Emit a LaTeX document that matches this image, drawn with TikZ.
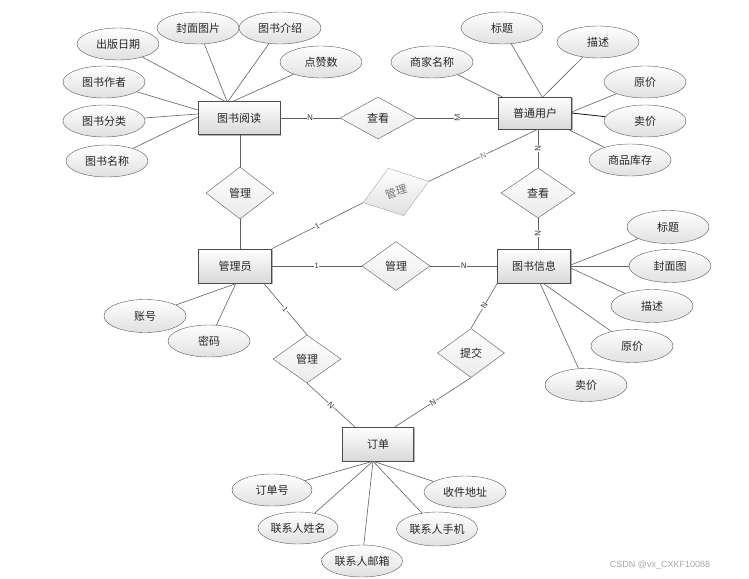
\documentclass[tikz,border=0pt]{standalone}
\usepackage{fontspec}
\newfontfamily\cjk{Noto Sans CJK SC}
\newfontfamily\wm{Liberation Sans}
\usetikzlibrary{shapes.geometric,shadows}
\begin{document}
\begin{tikzpicture}[x=1pt,y=-1pt,
  every node/.style={font=\cjk\fontsize{11}{12}\selectfont,text=black!85},
  ent/.style={rectangle,draw=black!70,top color=white,bottom color=black!15,minimum width=73pt,minimum height=34pt,inner sep=0pt,drop shadow={shadow xshift=1.3pt,shadow yshift=-1.3pt,fill=black!50,opacity=0.6}},
  attr/.style={ellipse,draw=black!65,top color=white,bottom color=black!12,minimum width=82pt,minimum height=32pt,inner sep=0pt},
  rel/.style={diamond,draw=black!65,top color=white,bottom color=black!8,minimum width=68pt,minimum height=50pt,inner sep=0pt},
  conn/.style={draw=black!62,line width=0.6pt},
  card/.style={font=\sffamily\fontsize{8}{8}\selectfont,fill=white,inner sep=0.3pt,midway,sloped,text=black!80},
]
\useasboundingbox (0,0) rectangle (749,578);
% entities
\node[ent,minimum width=82pt,minimum height=33pt] (R1) at (239,118) {图书阅读};
\node[ent,minimum height=32pt] (R2) at (535,113) {普通用户};
\node[ent] (R3) at (235,266) {管理员};
\node[ent] (R4) at (534,266) {图书信息};
\node[ent,minimum width=71pt] (R5) at (378,444) {订单};
% relations
\node[rel,minimum width=76pt,minimum height=42pt] (D1) at (378,118) {查看};
\node[rel,minimum height=52pt] (D2) at (240,193) {管理};
\node[rel,rotate=18,minimum width=69pt,draw=black!35,bottom color=black!12,text=black!55] (D3) at (396,192) {管理};
\node[rel,minimum width=74pt] (D4) at (538,193) {查看};
\node[rel,minimum height=49pt] (D5) at (396,266) {管理};
\node[rel,minimum height=48pt] (D6) at (307,359) {管理};
\node[rel,minimum width=67pt,minimum height=49pt] (D7) at (471,353) {提交};
% attributes of 图书阅读
\node[attr] (A1) at (118,44) {出版日期};
\node[attr] (A2) at (198,28) {封面图片};
\node[attr] (A3) at (280,28) {图书介绍};
\node[attr] (A4) at (321,62) {点赞数};
\node[attr] (A5) at (104,82) {图书作者};
\node[attr] (A6) at (104,121) {图书分类};
\node[attr] (A7) at (107,161) {图书名称};
% attributes of 普通用户
\node[attr] (B1) at (502,28) {标题};
\node[attr] (B2) at (598,42) {描述};
\node[attr] (B3) at (432,62) {商家名称};
\node[attr] (B4) at (645,82) {原价};
\node[attr] (B5) at (645,121) {卖价};
\node[attr] (B6) at (630,160) {商品库存};
% attributes of 管理员
\node[attr,minimum height=33pt] (C1) at (145,316) {账号};
\node[attr] (C2) at (209,341) {密码};
% attributes of 图书信息
\node[attr,minimum height=33pt] (E1) at (668,227) {标题};
\node[attr,minimum height=33pt] (E2) at (670,266) {封面图};
\node[attr,minimum height=33pt] (E3) at (652,306) {描述};
\node[attr,minimum height=33pt] (E4) at (632,346) {原价};
\node[attr,minimum height=33pt] (E5) at (586,385) {卖价};
% attributes of 订单
\node[attr,minimum width=80pt] (F1) at (272,490) {订单号};
\node[attr,minimum width=80pt] (F2) at (298,528) {联系人姓名};
\node[attr,minimum width=81pt] (F3) at (362,561) {联系人邮箱};
\node[attr,minimum width=81pt,minimum height=34pt] (F4) at (437,529) {联系人手机};
\node[attr] (F5) at (465,492) {收件地址};
% attribute lines
\draw[conn] (A1) -- ([xshift=-14pt]R1.north);
\draw[conn] (A2) -- ([xshift=-12pt]R1.north);
\draw[conn] (A3) -- ([xshift=-11pt]R1.north);
\draw[conn] (A4) -- ([xshift=-6pt]R1.north);
\draw[conn] (A5) -- ([yshift=8pt]R1.west);
\draw[conn] (A6) -- ([yshift=4pt]R1.west);
\draw[conn] (A7) -- ([yshift=1pt]R1.west);
\draw[conn] (B3) -- ([xshift=-33pt]R2.north);
\draw[conn] (B1) -- ([xshift=7pt]R2.north);
\draw[conn] (B2) -- ([xshift=8pt]R2.north);
\draw[conn] (B4) -- ([yshift=1pt]R2.east);
\draw[conn,draw=black!85,line width=0.9pt] (B5) -- (R2.east);
\draw[conn] (B6) -- ([xshift=-4pt]R2.south east);
\draw[conn] (C1) -- ([xshift=2pt]R3.south);
\draw[conn] (C2) -- ([xshift=1pt]R3.south);
\draw[conn] (E1) -- ([yshift=1pt]R4.east);
\draw[conn] (E2) -- (R4.east);
\draw[conn] (E3) -- ([yshift=-2pt]R4.east);
\draw[conn] (E4) -- ([xshift=9pt]R4.south);
\draw[conn] (E5) -- ([xshift=6pt]R4.south);
\draw[conn] (F1) -- ([xshift=-5pt]R5.south);
\draw[conn] (F2) -- ([xshift=-5pt]R5.south);
\draw[conn] (F3) -- ([xshift=-5pt]R5.south);
\draw[conn] (F4) -- ([xshift=-5pt]R5.south);
\draw[conn] (F5) -- ([xshift=-5pt]R5.south);
% relationship lines
\draw[conn] (R1.east |- D1.west) -- node[card]{N} (D1.west);
\draw[conn] (D1.east) -- node[card,rotate=90]{M} (D1.east -| R2.west);
\draw[conn] (D4.north |- R2.south) -- node[card]{N} (D4.north);
\draw[conn] ([xshift=3pt]R2.south) -- node[card,text=black!50]{N} (D3.east);
\draw[conn] (D3.west) -- node[card]{1} (R3.north east);
\draw[conn] (D2.north |- R1.south) -- (D2.north);
\draw[conn] (D2.south) -- (D2.south |- R3.north);
\draw[conn] (R3.east) -- node[card]{1} (D5.west);
\draw[conn] (D5.east) -- node[card]{N} (R4.west);
\draw[conn] ([xshift=-8pt]R3.south east) -- node[card]{1} (D6.north);
\draw[conn] (D6.south) -- node[card]{N} ([xshift=12.5pt]R5.north west);
\draw[conn] (D4.south) -- node[card]{N} (D4.south |- R4.north);
\draw[conn] (R4.south west) -- node[card]{N} (D7.north);
\draw[conn] (D7.south) -- node[card]{N} ([xshift=17pt]R5.north);
% watermark
\node[font=\wm\fontsize{9}{9}\selectfont,text=black!35,inner sep=0pt] (W) at (660,565) {CSDN @vx\_CXKF10088};
\end{tikzpicture}
\end{document}
